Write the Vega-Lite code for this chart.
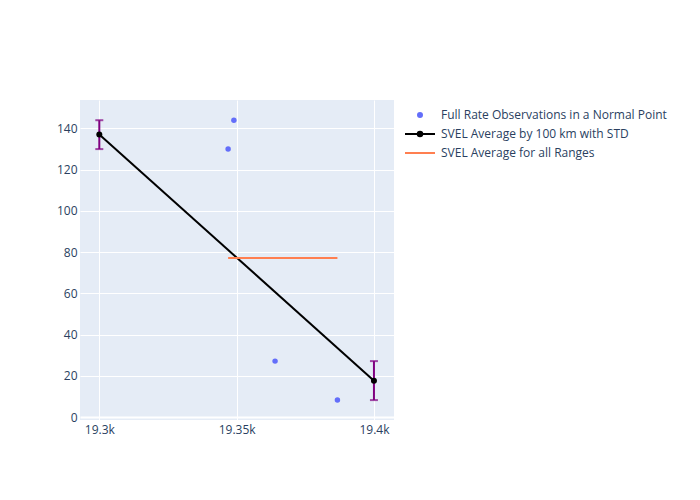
{
  "$schema": "https://vega.github.io/schema/vega-lite/v6.json",
  "width": 314,
  "height": 320,
  "autosize": {"type": "none"},
  "padding": {"left": 80, "top": 100, "right": 306, "bottom": 80},
  "background": "white",
  "config": {
    "view": {"fill": "#e5ecf6", "stroke": null},
    "axis": {
      "domain": false,
      "ticks": false,
      "gridColor": "white",
      "gridWidth": {"condition": {"test": "datum.value === 0", "value": 2}, "value": 1},
      "labelFont": "Open Sans",
      "labelFontSize": 12,
      "labelColor": "#2a3f5f",
      "title": null
    },
    "legend": {
      "labelFont": "Open Sans",
      "labelFontSize": 12,
      "labelColor": "#2a3f5f"
    }
  },
  "datasets": {
    "obs": [
      {"range": 19346.9, "svel": 129.9, "series": "Full Rate Observations in a Normal Point"},
      {"range": 19349.0, "svel": 143.9, "series": "Full Rate Observations in a Normal Point"},
      {"range": 19364.0, "svel": 27.1, "series": "Full Rate Observations in a Normal Point"},
      {"range": 19386.7, "svel": 8.2, "series": "Full Rate Observations in a Normal Point"}
    ],
    "avg": [
      {"range": 19300, "svel": 137.0, "low": 129.9, "high": 143.9},
      {"range": 19400, "svel": 17.6, "low": 8.2, "high": 27.1}
    ],
    "overall": [
      {"range": 19346.9, "svel": 77.1},
      {"range": 19386.7, "svel": 77.1}
    ]
  },
  "layer": [
    {
      "data": {"name": "obs"},
      "mark": {"type": "point", "filled": true, "size": 30, "opacity": 1},
      "encoding": {
        "x": {
          "field": "range", "type": "quantitative",
          "scale": {"domain": [19292.97, 19407.3], "nice": false, "zero": false},
          "axis": {"values": [19300, 19350, 19400], "labelExpr": "format(datum.value / 1000, '.4~') + 'k'", "labelPadding": 4}
        },
        "y": {
          "field": "svel", "type": "quantitative",
          "scale": {"domain": [-1.45, 153.7], "nice": false, "zero": false},
          "axis": {"values": [0, 20, 40, 60, 80, 100, 120, 140], "labelPadding": 3}
        },
        "color": {
          "field": "series", "type": "nominal",
          "scale": {
            "domain": ["Full Rate Observations in a Normal Point", "SVEL Average by 100 km with STD", "SVEL Average for all Ranges"],
            "range": ["#636efa", "#000000", "#ff7f50"]
          },
          "legend": {
            "title": null,
            "orient": "none",
            "legendX": 334,
            "legendY": 9,
            "padding": 0,
            "rowPadding": 6,
            "labelOffset": 15,
            "labelLimit": 0,
            "symbolSize": 100,
            "symbolStrokeWidth": 2,
            "encoding": {
              "symbols": {
                "shape": {"value": {"expr": "datum.value === 'Full Rate Observations in a Normal Point' ? 'M-0.4,0A0.4,0.4,0,1,1,0.4,0A0.4,0.4,0,1,1,-0.4,0Z' : datum.value === 'SVEL Average by 100 km with STD' ? 'M-3,0H3M-0.45,0A0.45,0.45,0,1,1,0.45,0A0.45,0.45,0,1,1,-0.45,0Z' : 'M-3,0H3'"}},
                "fill": {"value": {"expr": "datum.value === 'Full Rate Observations in a Normal Point' ? '#636efa' : datum.value === 'SVEL Average by 100 km with STD' ? '#000000' : 'transparent'"}},
                "stroke": {"value": {"expr": "datum.value === 'Full Rate Observations in a Normal Point' ? '#636efa' : datum.value === 'SVEL Average by 100 km with STD' ? '#000000' : '#ff7f50'"}},
                "strokeWidth": {"value": 2},
                "opacity": {"value": 1}
              }
            }
          }
        }
      }
    },
    {
      "data": {"name": "avg"},
      "mark": {"type": "rule", "color": "#800080", "strokeWidth": 2},
      "encoding": {
        "x": {"field": "range", "type": "quantitative"},
        "y": {"field": "low", "type": "quantitative"},
        "y2": {"field": "high"}
      }
    },
    {
      "data": {"name": "avg"},
      "mark": {"type": "tick", "orient": "horizontal", "color": "#800080", "thickness": 2, "size": 8},
      "encoding": {
        "x": {"field": "range", "type": "quantitative"},
        "y": {"field": "low", "type": "quantitative"}
      }
    },
    {
      "data": {"name": "avg"},
      "mark": {"type": "tick", "orient": "horizontal", "color": "#800080", "thickness": 2, "size": 8},
      "encoding": {
        "x": {"field": "range", "type": "quantitative"},
        "y": {"field": "high", "type": "quantitative"}
      }
    },
    {
      "data": {"name": "avg"},
      "mark": {"type": "line", "color": "#000000", "strokeWidth": 2, "point": {"filled": true, "size": 36, "color": "#000000"}},
      "encoding": {
        "x": {"field": "range", "type": "quantitative"},
        "y": {"field": "svel", "type": "quantitative"}
      }
    },
    {
      "data": {"name": "overall"},
      "mark": {"type": "line", "color": "#ff7f50", "strokeWidth": 2},
      "encoding": {
        "x": {"field": "range", "type": "quantitative"},
        "y": {"field": "svel", "type": "quantitative"}
      }
    }
  ]
}
